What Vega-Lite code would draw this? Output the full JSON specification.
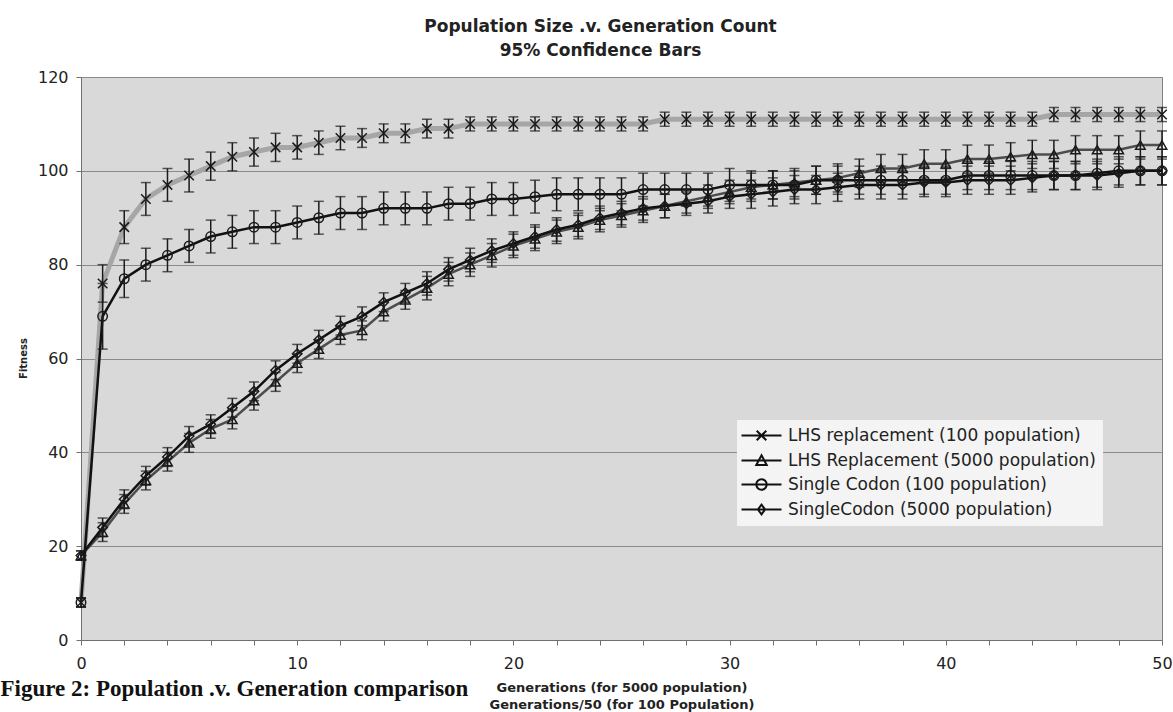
{
  "$schema": "https://vega.github.io/schema/vega-lite/v6.json",
  "width": 1081,
  "height": 563,
  "autosize": "none",
  "padding": {"left": 81, "top": 77, "right": 11, "bottom": 72},
  "background": "white",
  "config": {
    "view": {"fill": "#d9d9d9", "stroke": "#808080", "strokeWidth": 1},
    "font": "DejaVu Sans"
  },
  "title": {
    "text": ["Population Size .v. Generation Count", "95% Confidence Bars"],
    "font": "DejaVu Sans",
    "fontSize": 17,
    "fontWeight": "bold",
    "color": "#222222",
    "lineHeight": 24,
    "offset": 9,
    "dx": -21,
    "anchor": "middle",
    "frame": "group"
  },
  "datasets": {
    "fit": [
      {"s": "LHS replacement (100 population)", "g": 0, "f": 8, "e": 1},
      {"s": "LHS replacement (100 population)", "g": 1, "f": 76, "e": 4},
      {"s": "LHS replacement (100 population)", "g": 2, "f": 88, "e": 3.5},
      {"s": "LHS replacement (100 population)", "g": 3, "f": 94, "e": 3.5},
      {"s": "LHS replacement (100 population)", "g": 4, "f": 97, "e": 3.5},
      {"s": "LHS replacement (100 population)", "g": 5, "f": 99, "e": 3.5},
      {"s": "LHS replacement (100 population)", "g": 6, "f": 101, "e": 3},
      {"s": "LHS replacement (100 population)", "g": 7, "f": 103, "e": 3},
      {"s": "LHS replacement (100 population)", "g": 8, "f": 104, "e": 3},
      {"s": "LHS replacement (100 population)", "g": 9, "f": 105, "e": 3},
      {"s": "LHS replacement (100 population)", "g": 10, "f": 105, "e": 2.5},
      {"s": "LHS replacement (100 population)", "g": 11, "f": 106, "e": 2.5},
      {"s": "LHS replacement (100 population)", "g": 12, "f": 107, "e": 2.5},
      {"s": "LHS replacement (100 population)", "g": 13, "f": 107, "e": 2},
      {"s": "LHS replacement (100 population)", "g": 14, "f": 108, "e": 2},
      {"s": "LHS replacement (100 population)", "g": 15, "f": 108, "e": 2},
      {"s": "LHS replacement (100 population)", "g": 16, "f": 109, "e": 2},
      {"s": "LHS replacement (100 population)", "g": 17, "f": 109, "e": 2},
      {"s": "LHS replacement (100 population)", "g": 18, "f": 110, "e": 1.5},
      {"s": "LHS replacement (100 population)", "g": 19, "f": 110, "e": 1.5},
      {"s": "LHS replacement (100 population)", "g": 20, "f": 110, "e": 1.5},
      {"s": "LHS replacement (100 population)", "g": 21, "f": 110, "e": 1.5},
      {"s": "LHS replacement (100 population)", "g": 22, "f": 110, "e": 1.5},
      {"s": "LHS replacement (100 population)", "g": 23, "f": 110, "e": 1.5},
      {"s": "LHS replacement (100 population)", "g": 24, "f": 110, "e": 1.5},
      {"s": "LHS replacement (100 population)", "g": 25, "f": 110, "e": 1.5},
      {"s": "LHS replacement (100 population)", "g": 26, "f": 110, "e": 1.5},
      {"s": "LHS replacement (100 population)", "g": 27, "f": 111, "e": 1.5},
      {"s": "LHS replacement (100 population)", "g": 28, "f": 111, "e": 1.5},
      {"s": "LHS replacement (100 population)", "g": 29, "f": 111, "e": 1.5},
      {"s": "LHS replacement (100 population)", "g": 30, "f": 111, "e": 1.5},
      {"s": "LHS replacement (100 population)", "g": 31, "f": 111, "e": 1.5},
      {"s": "LHS replacement (100 population)", "g": 32, "f": 111, "e": 1.5},
      {"s": "LHS replacement (100 population)", "g": 33, "f": 111, "e": 1.5},
      {"s": "LHS replacement (100 population)", "g": 34, "f": 111, "e": 1.5},
      {"s": "LHS replacement (100 population)", "g": 35, "f": 111, "e": 1.5},
      {"s": "LHS replacement (100 population)", "g": 36, "f": 111, "e": 1.5},
      {"s": "LHS replacement (100 population)", "g": 37, "f": 111, "e": 1.5},
      {"s": "LHS replacement (100 population)", "g": 38, "f": 111, "e": 1.5},
      {"s": "LHS replacement (100 population)", "g": 39, "f": 111, "e": 1.5},
      {"s": "LHS replacement (100 population)", "g": 40, "f": 111, "e": 1.5},
      {"s": "LHS replacement (100 population)", "g": 41, "f": 111, "e": 1.5},
      {"s": "LHS replacement (100 population)", "g": 42, "f": 111, "e": 1.5},
      {"s": "LHS replacement (100 population)", "g": 43, "f": 111, "e": 1.5},
      {"s": "LHS replacement (100 population)", "g": 44, "f": 111, "e": 1.5},
      {"s": "LHS replacement (100 population)", "g": 45, "f": 112, "e": 1.5},
      {"s": "LHS replacement (100 population)", "g": 46, "f": 112, "e": 1.5},
      {"s": "LHS replacement (100 population)", "g": 47, "f": 112, "e": 1.5},
      {"s": "LHS replacement (100 population)", "g": 48, "f": 112, "e": 1.5},
      {"s": "LHS replacement (100 population)", "g": 49, "f": 112, "e": 1.5},
      {"s": "LHS replacement (100 population)", "g": 50, "f": 112, "e": 1.5},

      {"s": "LHS Replacement (5000 population)", "g": 0, "f": 18, "e": 1},
      {"s": "LHS Replacement (5000 population)", "g": 1, "f": 23, "e": 2},
      {"s": "LHS Replacement (5000 population)", "g": 2, "f": 29, "e": 2},
      {"s": "LHS Replacement (5000 population)", "g": 3, "f": 34, "e": 2},
      {"s": "LHS Replacement (5000 population)", "g": 4, "f": 38, "e": 2},
      {"s": "LHS Replacement (5000 population)", "g": 5, "f": 42, "e": 2},
      {"s": "LHS Replacement (5000 population)", "g": 6, "f": 45, "e": 2},
      {"s": "LHS Replacement (5000 population)", "g": 7, "f": 47, "e": 2},
      {"s": "LHS Replacement (5000 population)", "g": 8, "f": 51, "e": 2},
      {"s": "LHS Replacement (5000 population)", "g": 9, "f": 55, "e": 2},
      {"s": "LHS Replacement (5000 population)", "g": 10, "f": 59, "e": 2},
      {"s": "LHS Replacement (5000 population)", "g": 11, "f": 62, "e": 2},
      {"s": "LHS Replacement (5000 population)", "g": 12, "f": 65, "e": 2},
      {"s": "LHS Replacement (5000 population)", "g": 13, "f": 66, "e": 2},
      {"s": "LHS Replacement (5000 population)", "g": 14, "f": 70, "e": 2},
      {"s": "LHS Replacement (5000 population)", "g": 15, "f": 72.5, "e": 2},
      {"s": "LHS Replacement (5000 population)", "g": 16, "f": 75, "e": 2.5},
      {"s": "LHS Replacement (5000 population)", "g": 17, "f": 78, "e": 2.5},
      {"s": "LHS Replacement (5000 population)", "g": 18, "f": 80, "e": 2.5},
      {"s": "LHS Replacement (5000 population)", "g": 19, "f": 82, "e": 2.5},
      {"s": "LHS Replacement (5000 population)", "g": 20, "f": 84, "e": 2.5},
      {"s": "LHS Replacement (5000 population)", "g": 21, "f": 85.5, "e": 2.5},
      {"s": "LHS Replacement (5000 population)", "g": 22, "f": 87, "e": 2.5},
      {"s": "LHS Replacement (5000 population)", "g": 23, "f": 88, "e": 2.5},
      {"s": "LHS Replacement (5000 population)", "g": 24, "f": 89.5, "e": 2.5},
      {"s": "LHS Replacement (5000 population)", "g": 25, "f": 90.5, "e": 2.5},
      {"s": "LHS Replacement (5000 population)", "g": 26, "f": 91.5, "e": 2.5},
      {"s": "LHS Replacement (5000 population)", "g": 27, "f": 92.5, "e": 2.5},
      {"s": "LHS Replacement (5000 population)", "g": 28, "f": 93.5, "e": 2.5},
      {"s": "LHS Replacement (5000 population)", "g": 29, "f": 94.5, "e": 2.5},
      {"s": "LHS Replacement (5000 population)", "g": 30, "f": 95.5, "e": 2.5},
      {"s": "LHS Replacement (5000 population)", "g": 31, "f": 96.5, "e": 3},
      {"s": "LHS Replacement (5000 population)", "g": 32, "f": 97, "e": 3},
      {"s": "LHS Replacement (5000 population)", "g": 33, "f": 97.5, "e": 3},
      {"s": "LHS Replacement (5000 population)", "g": 34, "f": 98, "e": 3},
      {"s": "LHS Replacement (5000 population)", "g": 35, "f": 98.5, "e": 3},
      {"s": "LHS Replacement (5000 population)", "g": 36, "f": 99.5, "e": 3},
      {"s": "LHS Replacement (5000 population)", "g": 37, "f": 100.5, "e": 3},
      {"s": "LHS Replacement (5000 population)", "g": 38, "f": 100.5, "e": 3},
      {"s": "LHS Replacement (5000 population)", "g": 39, "f": 101.5, "e": 3},
      {"s": "LHS Replacement (5000 population)", "g": 40, "f": 101.5, "e": 3},
      {"s": "LHS Replacement (5000 population)", "g": 41, "f": 102.5, "e": 3},
      {"s": "LHS Replacement (5000 population)", "g": 42, "f": 102.5, "e": 3},
      {"s": "LHS Replacement (5000 population)", "g": 43, "f": 103, "e": 3},
      {"s": "LHS Replacement (5000 population)", "g": 44, "f": 103.5, "e": 3},
      {"s": "LHS Replacement (5000 population)", "g": 45, "f": 103.5, "e": 3},
      {"s": "LHS Replacement (5000 population)", "g": 46, "f": 104.5, "e": 3},
      {"s": "LHS Replacement (5000 population)", "g": 47, "f": 104.5, "e": 3},
      {"s": "LHS Replacement (5000 population)", "g": 48, "f": 104.5, "e": 3},
      {"s": "LHS Replacement (5000 population)", "g": 49, "f": 105.5, "e": 3},
      {"s": "LHS Replacement (5000 population)", "g": 50, "f": 105.5, "e": 3},

      {"s": "Single Codon (100 population)", "g": 0, "f": 8, "e": 1},
      {"s": "Single Codon (100 population)", "g": 1, "f": 69, "e": 7},
      {"s": "Single Codon (100 population)", "g": 2, "f": 77, "e": 4},
      {"s": "Single Codon (100 population)", "g": 3, "f": 80, "e": 3.5},
      {"s": "Single Codon (100 population)", "g": 4, "f": 82, "e": 3.5},
      {"s": "Single Codon (100 population)", "g": 5, "f": 84, "e": 3.5},
      {"s": "Single Codon (100 population)", "g": 6, "f": 86, "e": 3.5},
      {"s": "Single Codon (100 population)", "g": 7, "f": 87, "e": 3.5},
      {"s": "Single Codon (100 population)", "g": 8, "f": 88, "e": 3.5},
      {"s": "Single Codon (100 population)", "g": 9, "f": 88, "e": 3.5},
      {"s": "Single Codon (100 population)", "g": 10, "f": 89, "e": 3.5},
      {"s": "Single Codon (100 population)", "g": 11, "f": 90, "e": 3.5},
      {"s": "Single Codon (100 population)", "g": 12, "f": 91, "e": 3.5},
      {"s": "Single Codon (100 population)", "g": 13, "f": 91, "e": 3.5},
      {"s": "Single Codon (100 population)", "g": 14, "f": 92, "e": 3.5},
      {"s": "Single Codon (100 population)", "g": 15, "f": 92, "e": 3.5},
      {"s": "Single Codon (100 population)", "g": 16, "f": 92, "e": 3.5},
      {"s": "Single Codon (100 population)", "g": 17, "f": 93, "e": 3.5},
      {"s": "Single Codon (100 population)", "g": 18, "f": 93, "e": 3.5},
      {"s": "Single Codon (100 population)", "g": 19, "f": 94, "e": 3.5},
      {"s": "Single Codon (100 population)", "g": 20, "f": 94, "e": 3.5},
      {"s": "Single Codon (100 population)", "g": 21, "f": 94.5, "e": 3.5},
      {"s": "Single Codon (100 population)", "g": 22, "f": 95, "e": 3.5},
      {"s": "Single Codon (100 population)", "g": 23, "f": 95, "e": 3.5},
      {"s": "Single Codon (100 population)", "g": 24, "f": 95, "e": 3.5},
      {"s": "Single Codon (100 population)", "g": 25, "f": 95, "e": 3.5},
      {"s": "Single Codon (100 population)", "g": 26, "f": 96, "e": 3.5},
      {"s": "Single Codon (100 population)", "g": 27, "f": 96, "e": 3.5},
      {"s": "Single Codon (100 population)", "g": 28, "f": 96, "e": 3.5},
      {"s": "Single Codon (100 population)", "g": 29, "f": 96, "e": 3.5},
      {"s": "Single Codon (100 population)", "g": 30, "f": 97, "e": 3.5},
      {"s": "Single Codon (100 population)", "g": 31, "f": 97, "e": 3},
      {"s": "Single Codon (100 population)", "g": 32, "f": 97, "e": 3},
      {"s": "Single Codon (100 population)", "g": 33, "f": 97, "e": 3},
      {"s": "Single Codon (100 population)", "g": 34, "f": 98, "e": 3},
      {"s": "Single Codon (100 population)", "g": 35, "f": 98, "e": 3},
      {"s": "Single Codon (100 population)", "g": 36, "f": 98, "e": 3},
      {"s": "Single Codon (100 population)", "g": 37, "f": 98, "e": 3},
      {"s": "Single Codon (100 population)", "g": 38, "f": 98, "e": 3},
      {"s": "Single Codon (100 population)", "g": 39, "f": 98, "e": 3},
      {"s": "Single Codon (100 population)", "g": 40, "f": 98, "e": 3},
      {"s": "Single Codon (100 population)", "g": 41, "f": 99, "e": 3},
      {"s": "Single Codon (100 population)", "g": 42, "f": 99, "e": 3},
      {"s": "Single Codon (100 population)", "g": 43, "f": 99, "e": 3},
      {"s": "Single Codon (100 population)", "g": 44, "f": 99, "e": 3},
      {"s": "Single Codon (100 population)", "g": 45, "f": 99, "e": 3},
      {"s": "Single Codon (100 population)", "g": 46, "f": 99, "e": 3},
      {"s": "Single Codon (100 population)", "g": 47, "f": 99.5, "e": 3},
      {"s": "Single Codon (100 population)", "g": 48, "f": 100, "e": 3},
      {"s": "Single Codon (100 population)", "g": 49, "f": 100, "e": 3},
      {"s": "Single Codon (100 population)", "g": 50, "f": 100, "e": 3},

      {"s": "SingleCodon (5000 population)", "g": 0, "f": 18, "e": 1},
      {"s": "SingleCodon (5000 population)", "g": 1, "f": 24, "e": 2},
      {"s": "SingleCodon (5000 population)", "g": 2, "f": 30, "e": 2},
      {"s": "SingleCodon (5000 population)", "g": 3, "f": 35, "e": 2},
      {"s": "SingleCodon (5000 population)", "g": 4, "f": 39, "e": 2},
      {"s": "SingleCodon (5000 population)", "g": 5, "f": 43.5, "e": 2},
      {"s": "SingleCodon (5000 population)", "g": 6, "f": 46, "e": 2},
      {"s": "SingleCodon (5000 population)", "g": 7, "f": 49.5, "e": 2},
      {"s": "SingleCodon (5000 population)", "g": 8, "f": 53, "e": 2},
      {"s": "SingleCodon (5000 population)", "g": 9, "f": 57.5, "e": 2},
      {"s": "SingleCodon (5000 population)", "g": 10, "f": 61, "e": 2},
      {"s": "SingleCodon (5000 population)", "g": 11, "f": 64, "e": 2},
      {"s": "SingleCodon (5000 population)", "g": 12, "f": 67, "e": 2},
      {"s": "SingleCodon (5000 population)", "g": 13, "f": 69, "e": 2},
      {"s": "SingleCodon (5000 population)", "g": 14, "f": 72, "e": 2},
      {"s": "SingleCodon (5000 population)", "g": 15, "f": 74, "e": 2},
      {"s": "SingleCodon (5000 population)", "g": 16, "f": 76, "e": 2.5},
      {"s": "SingleCodon (5000 population)", "g": 17, "f": 79, "e": 2.5},
      {"s": "SingleCodon (5000 population)", "g": 18, "f": 81, "e": 2.5},
      {"s": "SingleCodon (5000 population)", "g": 19, "f": 83, "e": 2.5},
      {"s": "SingleCodon (5000 population)", "g": 20, "f": 84.5, "e": 2.5},
      {"s": "SingleCodon (5000 population)", "g": 21, "f": 86, "e": 2.5},
      {"s": "SingleCodon (5000 population)", "g": 22, "f": 87.5, "e": 2.5},
      {"s": "SingleCodon (5000 population)", "g": 23, "f": 88.5, "e": 2.5},
      {"s": "SingleCodon (5000 population)", "g": 24, "f": 90, "e": 2.5},
      {"s": "SingleCodon (5000 population)", "g": 25, "f": 91, "e": 2.5},
      {"s": "SingleCodon (5000 population)", "g": 26, "f": 92, "e": 2.5},
      {"s": "SingleCodon (5000 population)", "g": 27, "f": 92.5, "e": 2.5},
      {"s": "SingleCodon (5000 population)", "g": 28, "f": 93, "e": 2.5},
      {"s": "SingleCodon (5000 population)", "g": 29, "f": 93.5, "e": 2.5},
      {"s": "SingleCodon (5000 population)", "g": 30, "f": 94.5, "e": 2.5},
      {"s": "SingleCodon (5000 population)", "g": 31, "f": 95, "e": 3},
      {"s": "SingleCodon (5000 population)", "g": 32, "f": 95.5, "e": 3},
      {"s": "SingleCodon (5000 population)", "g": 33, "f": 96, "e": 3},
      {"s": "SingleCodon (5000 population)", "g": 34, "f": 96, "e": 3},
      {"s": "SingleCodon (5000 population)", "g": 35, "f": 96.5, "e": 3},
      {"s": "SingleCodon (5000 population)", "g": 36, "f": 97, "e": 3},
      {"s": "SingleCodon (5000 population)", "g": 37, "f": 97, "e": 3},
      {"s": "SingleCodon (5000 population)", "g": 38, "f": 97, "e": 3},
      {"s": "SingleCodon (5000 population)", "g": 39, "f": 97.5, "e": 3},
      {"s": "SingleCodon (5000 population)", "g": 40, "f": 97.5, "e": 3},
      {"s": "SingleCodon (5000 population)", "g": 41, "f": 98, "e": 3},
      {"s": "SingleCodon (5000 population)", "g": 42, "f": 98, "e": 3},
      {"s": "SingleCodon (5000 population)", "g": 43, "f": 98, "e": 3},
      {"s": "SingleCodon (5000 population)", "g": 44, "f": 98.5, "e": 3},
      {"s": "SingleCodon (5000 population)", "g": 45, "f": 99, "e": 3},
      {"s": "SingleCodon (5000 population)", "g": 46, "f": 99, "e": 3},
      {"s": "SingleCodon (5000 population)", "g": 47, "f": 99, "e": 3},
      {"s": "SingleCodon (5000 population)", "g": 48, "f": 99.5, "e": 3},
      {"s": "SingleCodon (5000 population)", "g": 49, "f": 100, "e": 3},
      {"s": "SingleCodon (5000 population)", "g": 50, "f": 100, "e": 3}
    ]
  },
  "data": {"name": "fit"},
  "layer": [
    {
      "transform": [{"filter": "datum.s === 'LHS replacement (100 population)'"}],
      "mark": {"type": "line", "strokeWidth": 5, "color": "#a6a6a6"},
      "encoding": {
        "x": {
          "field": "g",
          "type": "quantitative",
          "scale": {"domain": [0, 50], "nice": false},
          "axis": {
            "title": ["Generations (for 5000 population)", "Generations/50 (for 100 Population)"],
            "titleFont": "DejaVu Sans",
            "titleFontSize": 13,
            "titleFontWeight": "bold",
            "titleColor": "#222222",
            "titleLineHeight": 17,
            "titleBaseline": "alphabetic",
            "titleY": 51,
            "values": [0,1,2,3,4,5,6,7,8,9,10,11,12,13,14,15,16,17,18,19,20,21,22,23,24,25,26,27,28,29,30,31,32,33,34,35,36,37,38,39,40,41,42,43,44,45,46,47,48,49,50],
            "labelExpr": "datum.value % 5 === 0 ? datum.label : ''",
            "labelOverlap": false,
            "labelFlush": false,
            "labelFont": "DejaVu Sans",
            "labelFontSize": 16,
            "labelColor": "#222222",
            "labelPadding": 10,
            "tickSize": 5,
            "tickColor": "#707070",
            "domainColor": "#707070",
            "grid": false
          }
        },
        "y": {
          "field": "f",
          "type": "quantitative",
          "scale": {"domain": [0, 120], "nice": false},
          "axis": {
            "orient": "left",
            "title": "Fitness",
            "titleFont": "DejaVu Sans",
            "titleFontSize": 10,
            "titleFontWeight": "bold",
            "titleColor": "#222222",
            "titleX": -58,
            "titleY": 281,
            "titleAlign": "center",
            "titleBaseline": "middle",
            "values": [0, 20, 40, 60, 80, 100, 120],
            "labelFont": "DejaVu Sans",
            "labelFontSize": 16,
            "labelColor": "#222222",
            "labelPadding": 8,
            "tickSize": 5,
            "tickColor": "#707070",
            "domainColor": "#707070",
            "grid": true,
            "gridColor": "#8a8a8a",
            "gridWidth": 1
          }
        }
      }
    },
    {
      "transform": [{"filter": "datum.s !== 'LHS replacement (100 population)'"}],
      "mark": {"type": "line", "strokeWidth": 2.5},
      "encoding": {
        "x": {"field": "g", "type": "quantitative"},
        "y": {"field": "f", "type": "quantitative", "axis": null},
        "color": {
          "field": "s",
          "type": "nominal",
          "scale": {
            "domain": ["LHS Replacement (5000 population)", "Single Codon (100 population)", "SingleCodon (5000 population)"],
            "range": ["#4d4d4d", "#111111", "#111111"]
          },
          "legend": null
        }
      }
    },
    {
      "mark": {"type": "errorbar", "ticks": {"size": 10}, "thickness": 1.5, "color": "#1a1a1a"},
      "encoding": {
        "x": {"field": "g", "type": "quantitative"},
        "y": {"field": "f", "type": "quantitative", "axis": null},
        "yError": {"field": "e"}
      }
    },
    {
      "mark": {"type": "point", "filled": false, "strokeWidth": 1.5, "size": 90, "opacity": 1, "color": "#1a1a1a"},
      "encoding": {
        "x": {"field": "g", "type": "quantitative"},
        "y": {"field": "f", "type": "quantitative", "axis": null},
        "shape": {
          "field": "s",
          "type": "nominal",
          "scale": {
            "domain": ["LHS replacement (100 population)", "LHS Replacement (5000 population)", "Single Codon (100 population)", "SingleCodon (5000 population)"],
            "range": ["M-1,-1L1,1M1,-1L-1,1", "triangle-up", "circle", "diamond"]
          },
          "legend": null
        }
      }
    },
    {
      "transform": [{"filter": "false"}],
      "mark": {"type": "point", "filled": false, "strokeWidth": 2, "opacity": 1, "stroke": "#111111"},
      "encoding": {
        "x": {"field": "g", "type": "quantitative"},
        "y": {
          "field": "f",
          "type": "quantitative",
          "axis": {
            "orient": "right",
            "domain": false,
            "ticks": false,
            "labels": false,
            "grid": false,
            "title": "Figure 2: Population .v. Generation comparison",
            "titleAngle": 0,
            "titleX": -1162,
            "titleY": 618,
            "titleAlign": "left",
            "titleBaseline": "alphabetic",
            "titleFont": "Liberation Serif",
            "titleFontSize": 23,
            "titleFontWeight": "bold",
            "titleColor": "#111111"
          }
        },
        "shape": {
          "field": "s",
          "type": "nominal",
          "scale": {
            "domain": ["LHS replacement (100 population)", "LHS Replacement (5000 population)", "Single Codon (100 population)", "SingleCodon (5000 population)"],
            "range": [
              "M-5,0L5,0M-1.2,-1.2L1.2,1.2M1.2,-1.2L-1.2,1.2",
              "M-5,0L5,0M0,-1.3L1.3,1.1L-1.3,1.1Z",
              "M-5,0L5,0M-1.3,0A1.3,1.3 0 1 0 1.3,0A1.3,1.3 0 1 0 -1.3,0",
              "M-5,0L5,0M0,-1.2L0.9,0L0,1.2L-0.9,0Z"
            ]
          },
          "legend": {
            "orient": "none",
            "legendX": 656,
            "legendY": 343,
            "title": null,
            "fillColor": "#f4f4f4",
            "padding": 7,
            "labelFont": "DejaVu Sans",
            "labelFontSize": 17,
            "labelColor": "#222222",
            "labelLimit": 400,
            "symbolSize": 64,
            "symbolStrokeWidth": 2,
            "symbolStrokeColor": "#111111",
            "symbolOpacity": 1,
            "rowPadding": 6,
            "symbolOffset": 9,
            "labelOffset": 18
          }
        }
      }
    }
  ],
  "resolve": {
    "scale": {"shape": "independent"},
    "axis": {"y": "independent"},
    "legend": {"shape": "independent"}
  }
}
